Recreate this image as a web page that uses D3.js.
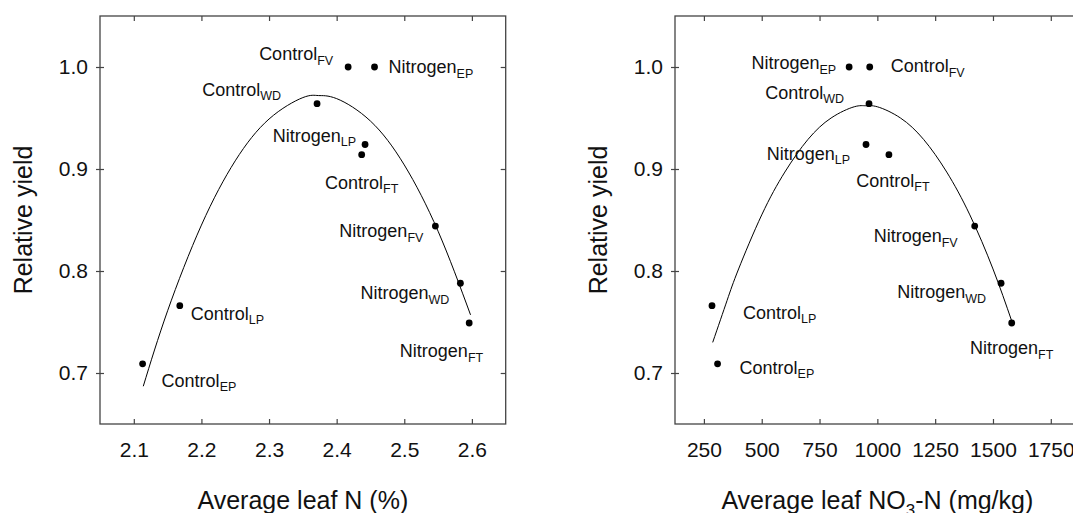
<!DOCTYPE html>
<html>
<head>
<meta charset="utf-8">
<script src="https://cdn.jsdelivr.net/npm/d3@7"></script>
<style>
  body { margin: 0; background: #fff; }
  svg { display: block; font-family: "Liberation Sans", Arial, sans-serif; }
</style>
</head>
<body>
<svg id="chart"></svg>
<script>
var width = 1073, height = 513

// observations, same order in every array
var treatment = ['Control', 'Control', 'Control', 'Control', 'Control',
                 'Nitrogen', 'Nitrogen', 'Nitrogen', 'Nitrogen', 'Nitrogen']
var stage = ['EP', 'LP', 'FV', 'FT', 'WD', 'EP', 'LP', 'FV', 'FT', 'WD']
var relYield = [0.709, 0.766, 1.0, 0.914, 0.964, 1.0, 0.924, 0.844, 0.749, 0.788]
var leafN = [2.113, 2.168, 2.417, 2.437, 2.371, 2.456, 2.442, 2.546, 2.596, 2.583]
var leafNO3 = [309, 285, 967, 1050, 964, 878, 951, 1421, 1581, 1535]

// fitted curves
var curveLeftX = [2.114, 2.15, 2.2, 2.25, 2.3, 2.35, 2.373, 2.4, 2.45, 2.5, 2.55, 2.598]
var curveLeftY = [0.687, 0.761, 0.845, 0.908, 0.949, 0.970, 0.972, 0.969, 0.947, 0.904, 0.839, 0.757]
var curveRightX = [288, 350, 400, 500, 600, 700, 800, 900, 950, 1000, 1100, 1200, 1300, 1400, 1500, 1581]
var curveRightY = [0.730, 0.771, 0.802, 0.855, 0.897, 0.929, 0.950, 0.961, 0.962, 0.961, 0.950, 0.929, 0.897, 0.855, 0.802, 0.751]

var yTicks = [0.7, 0.8, 0.9, 1.0]
var xTicksLeft = [2.1, 2.2, 2.3, 2.4, 2.5, 2.6]
var xTicksRight = [250, 500, 750, 1000, 1250, 1500, 1750, 2000]

// label placement per point: [anchor, dx, dy]
var labelPosLeft = [['start', 19, 23], ['start', 11, 14], ['end', -15, -7], ['middle', 0, 34], ['end', -36, -8],
                    ['start', 14, 6], ['end', -9, -3], ['end', -12, 11], ['end', 14, 34], ['end', -11, 16]]
var labelPosRight = [['start', 22, 10], ['start', 31, 13], ['start', 21, 5], ['middle', 4, 32], ['end', -25, -5],
                     ['end', -13, 2], ['end', -16, 15], ['end', -17, 16], ['middle', 0, 31], ['end', -15, 15]]

var svg = d3.select('#chart').attr('width', width).attr('height', height)

var plotTop = 16, plotBottom = 424
var frameColor = '#444'

function drawPanel(opt) {
    var x = d3.scaleLinear().domain(opt.xDomain).range(opt.xRange)
    var y = d3.scaleLinear().domain([0.65, 1.05]).range([plotBottom, plotTop])
    var g = svg.append('g')

    // frame
    g.append('rect')
        .attr('x', opt.xRange[0]).attr('y', plotTop)
        .attr('width', opt.xRange[1] - opt.xRange[0]).attr('height', plotBottom - plotTop)
        .attr('fill', 'none').attr('stroke', frameColor).attr('stroke-width', 1.3)

    // bottom axis, ticks inward
    var xb = g.append('g').attr('transform', 'translate(0,' + plotBottom + ')')
        .call(d3.axisBottom(x).tickValues(opt.xTicks).tickFormat(opt.xFormat).tickSize(-5).tickPadding(18))
    // top ticks inward
    var xt = g.append('g').attr('transform', 'translate(0,' + plotTop + ')')
        .call(d3.axisTop(x).tickValues(opt.xTicks).tickFormat('').tickSize(-5))
    // left axis
    var yl = g.append('g').attr('transform', 'translate(' + opt.xRange[0] + ',0)')
        .call(d3.axisLeft(y).tickValues(yTicks).tickFormat(d3.format('.1f')).tickSize(4).tickPadding(8))
    yl.selectAll('.tick').append('line').attr('x2', 4)
    // right ticks inward
    var yr = g.append('g').attr('transform', 'translate(' + opt.xRange[1] + ',0)')
        .call(d3.axisRight(y).tickValues(yTicks).tickFormat('').tickSize(-5))

    ;[xb, xt, yl, yr].forEach(function (a) {
        a.attr('font-size', null).attr('font-family', null)
        a.select('.domain').remove()
        a.selectAll('line').attr('stroke', frameColor).attr('stroke-width', 1.2)
        a.selectAll('text').attr('fill', '#111').style('font-size', '21px')
    })

    // fitted curve
    var pts = opt.curveX.map(function (d, i) { return [d, opt.curveY[i]] })
    g.append('path')
        .datum(pts)
        .attr('fill', 'none').attr('stroke', '#000').attr('stroke-width', 1)
        .attr('d', d3.line()
            .x(function (d) { return x(d[0]) })
            .y(function (d) { return y(d[1]) })
            .curve(d3.curveNatural))

    // points
    g.selectAll('circle.pt')
        .data(opt.xVals)
        .enter()
        .append('circle')
        .attr('class', 'pt')
        .attr('cx', function (d) { return x(d) })
        .attr('cy', function (d, i) { return y(relYield[i]) })
        .attr('r', 3.4)
        .attr('fill', '#000')

    // labels
    var lab = g.selectAll('text.lab')
        .data(opt.xVals)
        .enter()
        .append('text')
        .attr('class', 'lab')
        .attr('x', function (d, i) { return x(d) + opt.labelPos[i][1] })
        .attr('y', function (d, i) { return y(relYield[i]) + opt.labelPos[i][2] })
        .attr('text-anchor', function (d, i) { return opt.labelPos[i][0] })
        .style('font-size', '18px')
        .attr('fill', '#111')
    lab.append('tspan').text(function (d, i) { return treatment[i] })
    lab.append('tspan').attr('dy', 4.5).style('font-size', '12.5px')
        .text(function (d, i) { return stage[i] })

    // y title
    var cy = (plotTop + plotBottom) / 2
    g.append('text')
        .attr('transform', 'translate(' + (opt.xRange[0] - 68) + ',' + cy + ') rotate(-90)')
        .attr('text-anchor', 'middle')
        .style('font-size', '25px')
        .attr('fill', '#111')
        .text('Relative yield')

    // x title
    var xt2 = g.append('text')
        .attr('x', (opt.xRange[0] + opt.xRange[1]) / 2)
        .attr('y', 509)
        .attr('text-anchor', 'middle')
        .style('font-size', '25px')
        .attr('fill', '#111')
    opt.xTitle.forEach(function (p) {
        var t = xt2.append('tspan').text(p.text)
        if (p.dy) t.attr('dy', p.dy)
        if (p.sub) t.style('font-size', '17px')
    })
}

drawPanel({
    xDomain: [2.05, 2.65], xRange: [100, 505.7],
    xTicks: xTicksLeft, xFormat: d3.format('.1f'),
    xVals: leafN, curveX: curveLeftX, curveY: curveLeftY,
    labelPos: labelPosLeft,
    xTitle: [{text: 'Average leaf N (%)'}]
})

drawPanel({
    xDomain: [125, 1875], xRange: [675, 1079.7],
    xTicks: xTicksRight, xFormat: d3.format('d'),
    xVals: leafNO3, curveX: curveRightX, curveY: curveRightY,
    labelPos: labelPosRight,
    xTitle: [{text: 'Average leaf NO'}, {text: '3', dy: 7, sub: true}, {text: '-N (mg/kg)', dy: -7}]
})
</script>
</body>
</html>
